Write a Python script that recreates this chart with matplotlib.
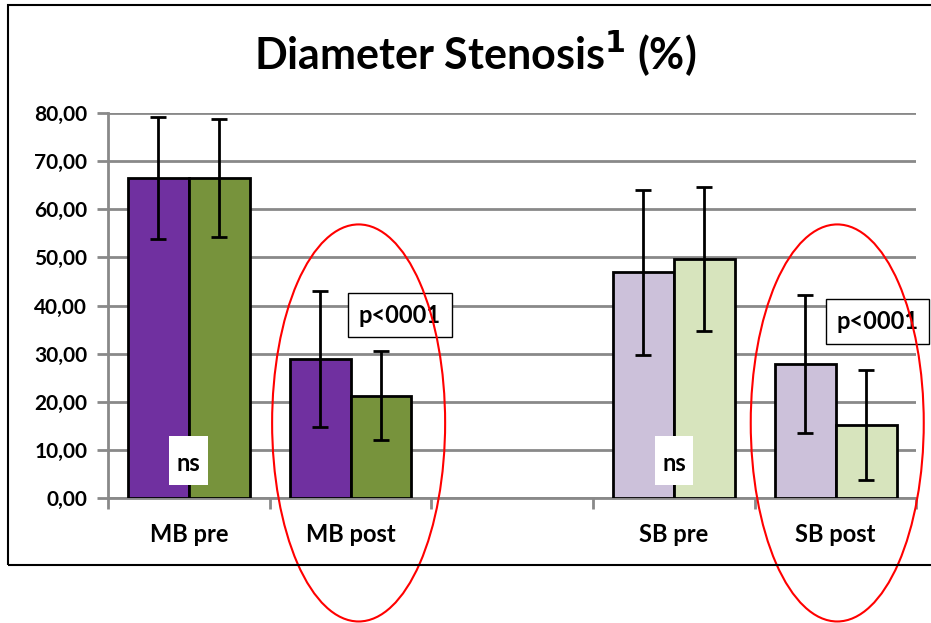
import numpy as np
import matplotlib
matplotlib.use("Agg")
from matplotlib import pyplot as plt
from matplotlib.patches import Ellipse, Rectangle

## 数据：四个组别（中间留一个空位），每组两根柱子
categories = ["MB pre", "MB post", "", "SB pre", "SB post"]
series_a = [66.5, 28.9, np.nan, 46.9, 27.8]
series_b = [66.5, 21.3, np.nan, 49.7, 15.2]
err_a = [12.6, 14.2, np.nan, 17.2, 14.3]
err_b = [12.3, 9.2, np.nan, 15.0, 11.4]
colors_a = ["#7030A0", "#7030A0", "none", "#CCC1DA", "#CCC1DA"]
colors_b = ["#77933C", "#77933C", "none", "#D7E4BD", "#D7E4BD"]
yticks = [0, 10, 20, 30, 40, 50, 60, 70, 80]

plt.rcParams["font.family"] = ["Lato", "DejaVu Sans"]
plt.rcParams["font.weight"] = "bold"

fig = plt.figure(figsize=(9.31, 6.23), dpi=100)
ax = fig.add_axes([0.116, 0.2006, 0.8684, 0.618])

x = np.arange(len(categories))
w = 0.377
grid_c = "#898989"

ax.bar(x - w / 2, series_a, w, color=colors_a, edgecolor="black", linewidth=2, zorder=3)
ax.bar(x + w / 2, series_b, w, color=colors_b, edgecolor="black", linewidth=2, zorder=3)
ax.errorbar(x - w / 2, series_a, yerr=err_a, fmt="none", ecolor="black",
            elinewidth=2, capsize=6, capthick=2, zorder=4)
ax.errorbar(x + w / 2, series_b, yerr=err_b, fmt="none", ecolor="black",
            elinewidth=2, capsize=6, capthick=2, zorder=4)

ax.set_xlim(-0.5, 4.5)
ax.set_ylim(0, 80)
ax.set_yticks(yticks)
ax.set_yticklabels(["%d,00" % v for v in yticks], fontsize=15, fontweight="bold")
ax.yaxis.grid(True, color=grid_c, linewidth=2, zorder=0)
ax.set_axisbelow(True)

## x 轴：分隔刻度在组之间，标签在组中间
ax.set_xticks(np.arange(-0.5, 5.0, 1.0))
ax.set_xticklabels([])
ax.set_xticks(x, minor=True)
ax.set_xticklabels(categories, minor=True, fontsize=17, fontweight="bold")
ax.tick_params(axis="x", which="minor", length=0, pad=18)
ax.tick_params(axis="x", which="major", length=8, width=2, color=grid_c)
ax.tick_params(axis="y", length=8, width=2, color=grid_c, pad=7)

for s in ["top", "right"]:
    ax.spines[s].set_visible(False)
for s in ["left", "bottom"]:
    ax.spines[s].set_color(grid_c)
    ax.spines[s].set_linewidth(2)

## 标注：ns 白底方块
for xi in [0, 3]:
    ax.add_patch(Rectangle((xi - 0.12, 2.7), 0.24, 10.2, facecolor="white",
                           edgecolor="none", zorder=5))
    ax.text(xi, 7.2, "ns", ha="center", va="center", fontsize=17,
            fontweight="bold", zorder=6)

box_p = dict(boxstyle="square,pad=0.45", facecolor="white", edgecolor="black", linewidth=1)
ax.text(1.305, 38.0, "p<0001", ha="center", va="center", fontsize=17,
        fontweight="bold", bbox=box_p, zorder=5)
ax.text(4.26, 36.7, "p<0001", ha="center", va="center", fontsize=17,
        fontweight="bold", bbox=box_p, zorder=5, clip_on=False)

for cx in [1.05, 4.01]:
    ax.add_patch(Ellipse((cx, 15.6), 1.07, 82.5, fill=False, edgecolor="red",
                         linewidth=1.5, clip_on=False, zorder=7))

fig.text(0.51, 0.912, "Diameter Stenosis$^{\\mathbf{1}}$ (%)", ha="center", va="center",
         fontsize=31, fontweight="bold")

fig.patches.append(Rectangle((8 / 931, 1 - 565 / 623), 1.0, (565 - 5) / 623,
                             transform=fig.transFigure, fill=False,
                             edgecolor="black", linewidth=1.5, zorder=0))

fig.savefig("out.png", dpi=100)
